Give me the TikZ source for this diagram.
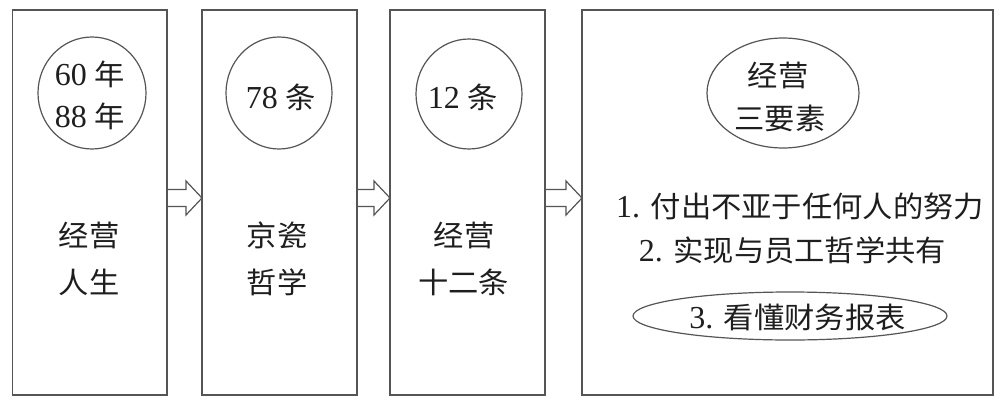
\documentclass[tikz,border=0pt]{standalone}
\usepackage{fontspec}
\setmainfont{Liberation Serif}
\newfontfamily\cjkfont[FakeStretch=1.04,Scale=0.91]{Noto Sans CJK SC}
\newcommand\zhtxt[1]{{\cjkfont #1}}
\usetikzlibrary{shapes.geometric,calc}
\definecolor{linec}{HTML}{555555}
\definecolor{txtc}{HTML}{1E1E1E}
\begin{document}
\begin{tikzpicture}[x=0.5pt,y=-0.5pt,
  frame/.style={draw=linec, line width=0.65pt, rectangle, inner sep=0pt, outer sep=0pt},
  ring/.style={draw=linec, line width=0.6pt, ellipse, inner sep=0pt, outer sep=0pt},
  lbl/.style={text=txtc, inner sep=0pt, font=\fontsize{16pt}{18pt}\selectfont},
  blockarr/.style={draw=linec, line width=0.6pt, to path={let \p1=(\tikztostart), \p2=(\tikztotarget) in
     (\x1,\y1+4.25pt) -- (\x2-8pt,\y1+4.25pt) -- (\x2-8pt,\y1+8.5pt) -- (\x2,\y1)
     -- (\x2-8pt,\y1-8.5pt) -- (\x2-8pt,\y1-4.25pt) -- (\x1,\y1-4.25pt)}}]
\useasboundingbox (0,0) rectangle (1000,407);
\fill[white] (0,0) rectangle (1000,407);
% boxes
\node[frame, minimum width=77.15pt, minimum height=192.5pt] (b1) at (89.85,202.5) {};
\node[frame, minimum width=77.5pt, minimum height=192.5pt] (b2) at (279.5,202.5) {};
\node[frame, minimum width=77.5pt, minimum height=192.5pt] (b3) at (467.5,202.5) {};
\node[frame, minimum width=205.5pt, minimum height=192.5pt] (b4) at (787.5,202.5) {};
% circles / ellipses
\node[ring, minimum width=54pt, minimum height=56pt] (c1) at (92,93) {};
\node[ring, minimum width=53pt, minimum height=56pt] (c2) at (279,93) {};
\node[ring, minimum width=53pt, minimum height=55pt] (c3) at (469,94) {};
\node[ring, minimum width=76pt, minimum height=55pt] (c4) at (783,93) {};
\node[ring, minimum width=157pt, minimum height=24pt] (c5) at (790,316) {};
% circle texts
\node[lbl] (t1a) at (90,74) {60 \zhtxt{年}};
\node[lbl] (t1b) at (90,116) {88 \zhtxt{年}};
\node[lbl] (t2) at (281,97) {78 \zhtxt{条}};
\node[lbl] (t3) at (463,97) {12 \zhtxt{条}};
\node[lbl] (t4a) at (778,75) {\zhtxt{经营}};
\node[lbl] (t4b) at (780,118) {\zhtxt{三要素}};
% box texts
\node[lbl] (s1a) at (89,235) {\zhtxt{经营}};
\node[lbl] (s1b) at (89,282) {\zhtxt{人生}};
\node[lbl] (s2a) at (277,235) {\zhtxt{京瓷}};
\node[lbl] (s2b) at (277,282) {\zhtxt{哲学}};
\node[lbl] (s3a) at (464,235) {\zhtxt{经营}};
\node[lbl] (s3b) at (463.5,282) {\zhtxt{十二条}};
% list
\node[lbl] (l1) at (800,206) {1. \zhtxt{付出不亚于任何人的努力}};
\node[lbl] (l2) at (792.5,250) {2. \zhtxt{实现与员工哲学共有}};
\node[lbl] (l3) at (797.5,317) {3. \zhtxt{看懂财务报表}};
% arrows
\coordinate (yarr) at (0,198);
\draw[blockarr] (b1.east |- yarr) to (b2.west |- yarr);
\draw[blockarr] (b2.east |- yarr) to (b3.west |- yarr);
\draw[blockarr] (b3.east |- yarr) to (b4.west |- yarr);
\end{tikzpicture}
\end{document}
